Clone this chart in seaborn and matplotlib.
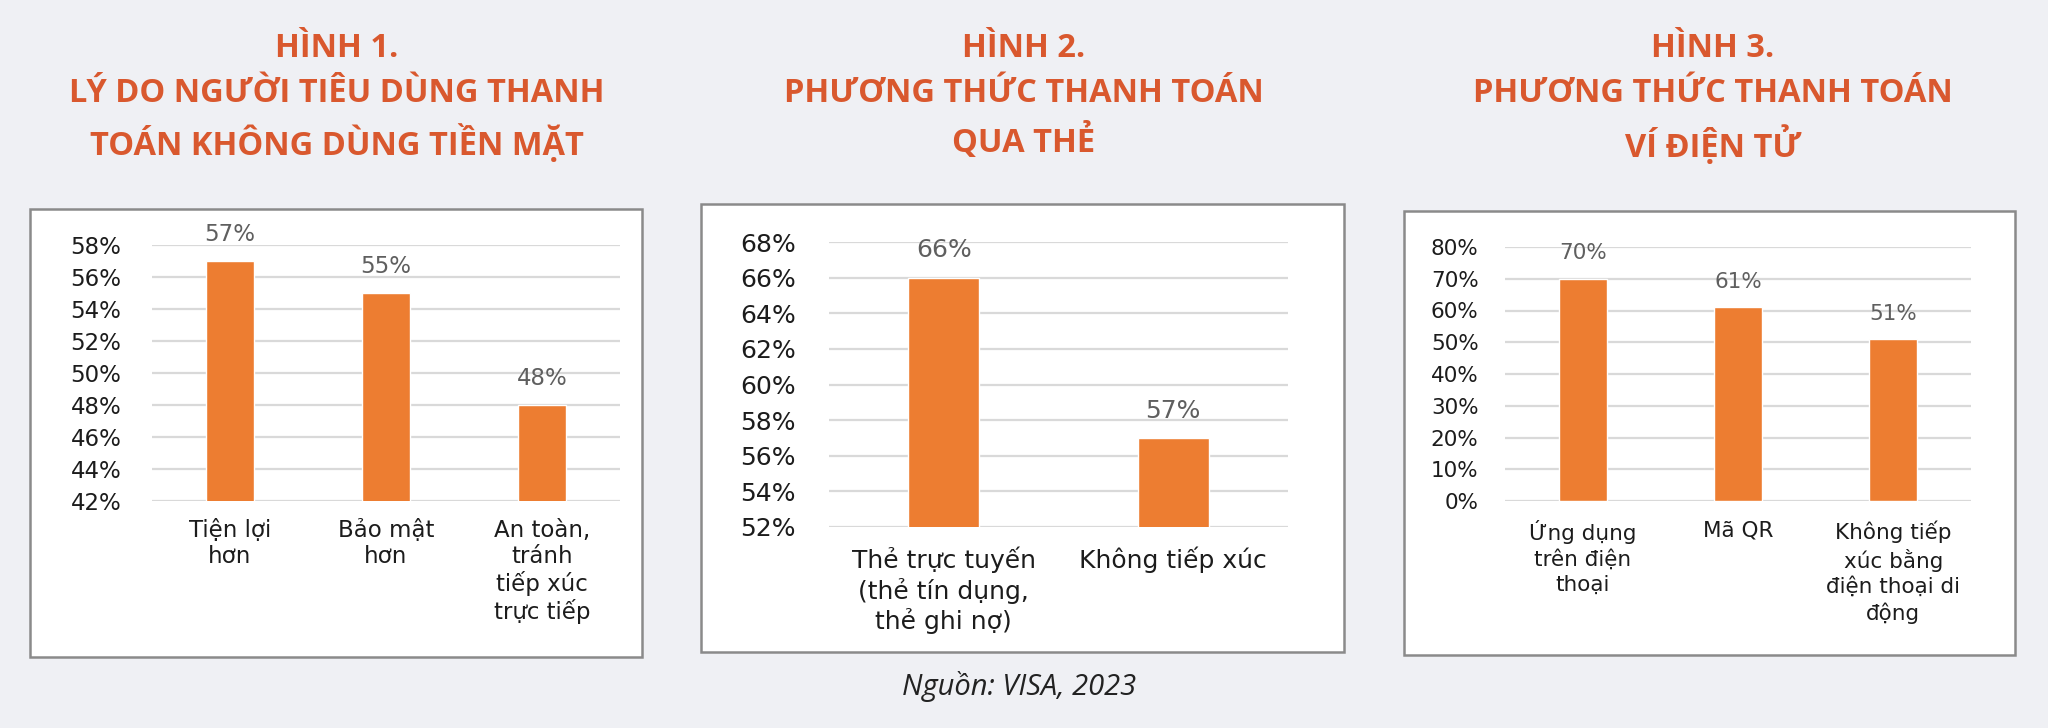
import matplotlib
matplotlib.use("Agg")
import matplotlib.pyplot as plt
import seaborn as sns
import pandas as pd
from matplotlib.patches import Rectangle
from matplotlib.ticker import MultipleLocator, FuncFormatter

# data
cats1 = ["Tiện lợi\nhơn", "Bảo mật\nhơn", "An toàn,\ntránh\ntiếp xúc\ntrực tiếp"]
vals1 = [57, 55, 48]
cats2 = ["Thẻ trực tuyến\n(thẻ tín dụng,\nthẻ ghi nợ)", "Không tiếp xúc"]
vals2 = [66, 57]
cats3 = ["Ứng dụng\ntrên điện\nthoại", "Mã QR", "Không tiếp\nxúc bằng\nđiện thoại di\nđộng"]
vals3 = [70, 61, 51]

titles = [
    "HÌNH 1.\nLÝ DO NGƯỜI TIÊU DÙNG THANH\nTOÁN KHÔNG DÙNG TIỀN MẶT",
    "HÌNH 2.\nPHƯƠNG THỨC THANH TOÁN\nQUA THẺ",
    "HÌNH 3.\nPHƯƠNG THỨC THANH TOÁN\nVÍ ĐIỆN TỬ",
]
source = "Nguồn: VISA, 2023"

W, H = 2048, 728
BG = "#eff0f4"
BAR = "#ed7d31"
TITLE_C = "#d9582e"

sns.set_theme(style="white")
plt.rcParams["font.family"] = ["Open Sans", "DejaVu Sans"]

fig = plt.figure(figsize=(W / 100, H / 100), dpi=100, facecolor=BG)


def px_axes(x0, x1, y0, y1):
    ax = fig.add_axes([x0 / W, 1 - y1 / H, (x1 - x0) / W, (y1 - y0) / H])
    ax.set_zorder(2)
    return ax


def box(x0, x1, y0, y1):
    fig.patches.append(Rectangle((x0 / W, 1 - y1 / H), (x1 - x0) / W, (y1 - y0) / H,
                                 transform=fig.transFigure, facecolor="white",
                                 edgecolor="#8a8a8a", linewidth=1.8, zorder=0))


def panel(ax, cats, vals, ylo, yhi, step, fs, lsp, ypad, xpad):
    df = pd.DataFrame({"cat": cats, "val": vals})
    sns.barplot(data=df, x="cat", y="val", color=BAR, saturation=1, width=0.31, ax=ax, zorder=3)
    ax.set_ylim(ylo, yhi)
    ax.set_xlim(-0.5, len(cats) - 0.5)
    ax.yaxis.set_major_locator(MultipleLocator(step))
    ax.yaxis.set_major_formatter(FuncFormatter(lambda v, _: f"{v:.0f}%"))
    ax.grid(axis="y", color="#d9d9d9", linewidth=1.6, zorder=0)
    ax.set_axisbelow(True)
    for s in ax.spines.values():
        s.set_visible(False)
    ax.set_xlabel("")
    ax.set_ylabel("")
    ax.set_facecolor("white")
    ax.tick_params(axis="y", length=0, pad=ypad, labelsize=fs, labelcolor="#1c1c1c")
    ax.tick_params(axis="x", length=0, pad=xpad, labelsize=fs, labelcolor="#1c1c1c")
    for lab in ax.get_xticklabels() + ax.get_yticklabels():
        lab.set_fontfamily("DejaVu Sans")
    for lab in ax.get_xticklabels():
        lab.set_linespacing(lsp)
        lab.set_verticalalignment("top")
    ax.bar_label(ax.containers[0], labels=[f"{v}%" for v in vals], padding=11,
                 fontsize=fs, color="#5f5f5f", family="DejaVu Sans")


box(30, 642, 209, 657)
box(701, 1344, 204, 652)
box(1404, 2015, 211, 655)

ax1 = px_axes(152, 620, 245, 501)
panel(ax1, cats1, vals1, 42, 58, 2, 16.5, 1.15, 22, 13)
ax2 = px_axes(829, 1288, 242, 527)
panel(ax2, cats2, vals2, 52, 68, 2, 18, 1.22, 24, 14)
ax3 = px_axes(1505, 1971, 247, 501)
panel(ax3, cats3, vals3, 0, 80, 10, 15.5, 1.3, 19, 14)

for cx, t in zip([337, 1024, 1713], titles):
    fig.text(cx / W, 1 - 32 / H, t, ha="center", va="top", fontsize=23.5,
             fontweight="bold", color=TITLE_C, linespacing=1.47)

fig.text(1019 / W, 1 - 687 / H, source, ha="center", va="center", fontsize=21,
         fontstyle="italic", color="#222222")

fig.savefig("out.png", dpi=100, facecolor=BG)
